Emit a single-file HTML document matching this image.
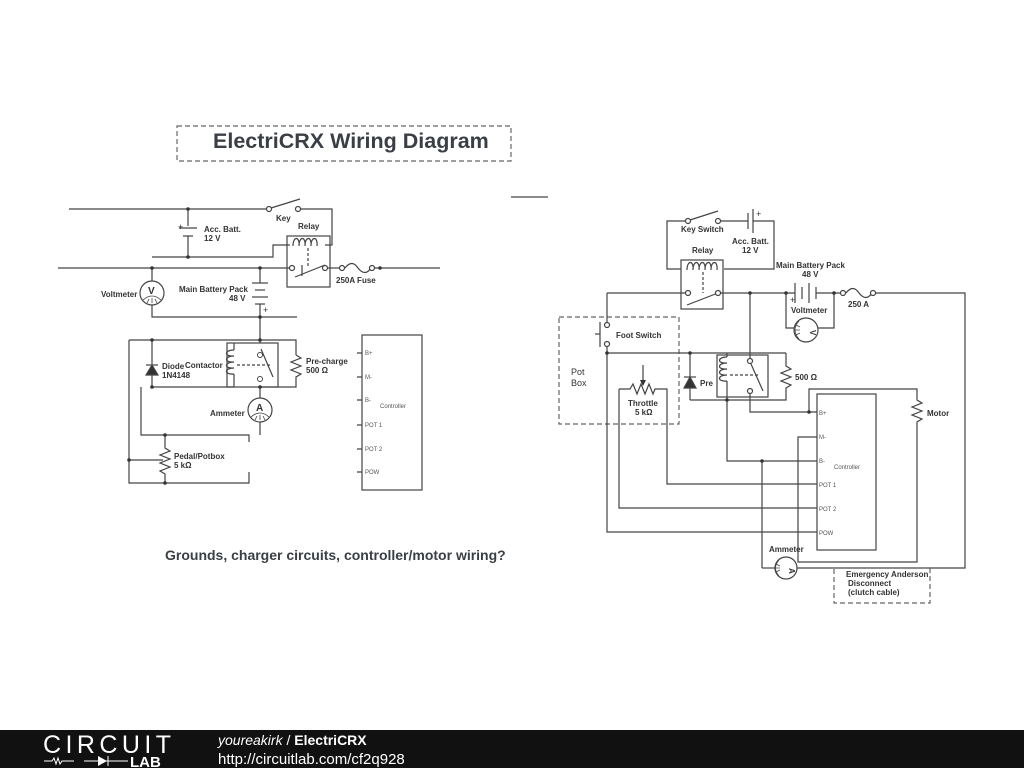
<!DOCTYPE html>
<html><head><meta charset="utf-8"><style>
html,body{margin:0;padding:0;background:#fff;width:1024px;height:768px;overflow:hidden}
svg{display:block}
text{font-family:"Liberation Sans",sans-serif;fill:#333}
.b{font-weight:bold;font-size:8px}
.s{font-size:6px;fill:#555}
</style></head><body>
<svg width="1024" height="768" viewBox="0 0 1024 768" xmlns="http://www.w3.org/2000/svg">
<g fill="none" stroke="#444" stroke-width="1.2">
<rect x="177" y="126" width="334" height="35" stroke-dasharray="5,3" stroke="#666"/>
<line x1="511" y1="197" x2="548" y2="197"/>
<!-- LEFT CIRCUIT -->
<polyline points="69,209 266,209"/>
<line x1="271" y1="208" x2="300" y2="199"/>
<polyline points="301,209 332,209 332,245 325,245"/>
<line x1="188" y1="209" x2="188" y2="226"/>
<line x1="179" y1="228" x2="197" y2="228"/>
<line x1="183" y1="236" x2="193" y2="236"/>
<line x1="188" y1="236" x2="188" y2="257"/>
<polyline points="152,257 273,257 273,245 290,245"/>
<rect x="287" y="236" width="43" height="51"/>
<path d="M293,246 c0,-10 7,-10 6,0 c0,-10 7,-10 6,0 c0,-10 7,-10 6,0 c0,-10 7,-10 6,0"/>
<line x1="58" y1="268" x2="289" y2="268"/>
<line x1="295" y1="277" x2="325" y2="265"/>
<line x1="302" y1="276" x2="302" y2="265"/>
<line x1="308" y1="248" x2="308" y2="268" stroke-dasharray="3,2"/>
<line x1="328" y1="268" x2="339" y2="268"/>
<path d="M345,268 q7,-9 13,0 q7,9 13,0"/>
<line x1="375" y1="268" x2="440" y2="268"/>
<circle cx="292" cy="268" r="2.5" fill="#fff"/><circle cx="325" cy="268" r="2.5" fill="#fff"/>
<circle cx="342" cy="268" r="2.5" fill="#fff"/><circle cx="372" cy="268" r="2.5" fill="#fff"/>
<circle cx="269" cy="209" r="2.5" fill="#fff"/><circle cx="298" cy="209" r="2.5" fill="#fff"/>
<line x1="152" y1="268" x2="152" y2="281"/>
<circle cx="152" cy="293" r="12"/>
<path d="M143,300 q9,-8 18,0 M147,303 l2,-4 M152,303 v-5 M157,303 l-2,-4" stroke-width="0.8"/>
<polyline points="152,305 152,317 297,317"/>
<line x1="260" y1="268" x2="260" y2="283"/>
<line x1="252" y1="283" x2="268" y2="283"/><line x1="255" y1="290" x2="265" y2="290"/>
<line x1="252" y1="297" x2="268" y2="297"/><line x1="255" y1="304" x2="265" y2="304"/>
<line x1="260" y1="304" x2="260" y2="343"/>
<polyline points="129,340 296,340 296,355"/>
<rect x="227" y="343" width="51" height="44"/>
<path d="M234,350 c-10,0 -10,7 0,6 c-10,0 -10,7 0,6 c-10,0 -10,7 0,6 c-10,0 -10,7 0,6"/>
<line x1="234" y1="343" x2="234" y2="350"/><line x1="234" y1="374" x2="234" y2="387"/>
<line x1="237" y1="365" x2="270" y2="365" stroke-dasharray="3,2"/>
<line x1="261" y1="349" x2="273" y2="377"/>
<line x1="260" y1="387" x2="260" y2="398"/>
<polyline points="296,355 301,358 291,362 301,366 291,370 301,374 296,377 296,387 261,387"/>
<line x1="152" y1="340" x2="152" y2="387"/>
<polygon points="146,375 158,375 152,365" fill="#333"/>
<line x1="146" y1="365" x2="158" y2="365"/>
<line x1="152" y1="387" x2="234" y2="387"/>
<polyline points="141,387 141,435 249,435 249,442"/>
<circle cx="260" cy="410" r="12"/>
<path d="M251,417 q9,-8 18,0 M255,420 l2,-4 M260,420 v-5 M265,420 l-2,-4" stroke-width="0.8"/>
<line x1="260" y1="422" x2="260" y2="435"/>
<polyline points="165,435 165,448 170,451 160,455 170,459 160,463 170,467 160,471 165,474 165,483"/>
<line x1="129" y1="460" x2="163" y2="460"/>
<polyline points="129,340 129,483 249,483 249,472"/>
<rect x="362" y="335" width="60" height="155"/>
<path d="M357,353h5M357,377h5M357,400h5M357,425h5M357,449h5M357,472h5"/>
<!-- RIGHT CIRCUIT -->
<polyline points="681,269 667,269 667,221 686,221"/>
<line x1="690" y1="220" x2="718" y2="211"/>
<line x1="721" y1="221" x2="748" y2="221"/>
<line x1="748" y1="213" x2="748" y2="229"/><line x1="753" y1="209" x2="753" y2="233"/>
<polyline points="753,221 774,221 774,269 724,269"/>
<rect x="681" y="260" width="42" height="49"/>
<path d="M687,270 c0,-10 7,-10 6,0 c0,-10 7,-10 6,0 c0,-10 7,-10 6,0 c0,-10 7,-10 6,0 c0,-10 7,-10 6,0"/>
<line x1="703" y1="272" x2="703" y2="293" stroke-dasharray="3,2"/>
<line x1="687" y1="305" x2="718" y2="293"/>
<line x1="607" y1="293" x2="686" y2="293"/>
<line x1="720" y1="293" x2="795" y2="293"/>
<line x1="795" y1="283" x2="795" y2="303"/><line x1="802" y1="287" x2="802" y2="299"/>
<line x1="809" y1="283" x2="809" y2="303"/><line x1="816" y1="287" x2="816" y2="299"/>
<line x1="816" y1="293" x2="841" y2="293"/>
<path d="M846,293 q7,-9 13,0 q7,9 13,0"/>
<polyline points="875,293 965,293 965,568 797,568"/>
<circle cx="688" cy="293" r="2.5" fill="#fff"/><circle cx="718" cy="293" r="2.5" fill="#fff"/>
<circle cx="843" cy="293" r="2.5" fill="#fff"/><circle cx="873" cy="293" r="2.5" fill="#fff"/>
<circle cx="688" cy="221" r="2.5" fill="#fff"/><circle cx="718" cy="221" r="2.5" fill="#fff"/>
<polyline points="786,293 786,328 794,328"/>
<circle cx="806" cy="330" r="12"/>
<path d="M799,321 q-8,9 0,18 M796,325 l4,2 M795,330 h5 M796,335 l4,-2" stroke-width="0.8"/>
<polyline points="818,328 834,328 834,293"/>
<rect x="559" y="317" width="120" height="107" stroke-dasharray="5,3" stroke="#666"/>
<line x1="607" y1="293" x2="607" y2="322"/>
<line x1="600" y1="322" x2="600" y2="347"/><line x1="595" y1="334" x2="600" y2="334"/>
<circle cx="607" cy="325" r="2.5" fill="#fff"/><circle cx="607" cy="344" r="2.5" fill="#fff"/>
<polyline points="607,347 607,532 817,532"/>
<line x1="607" y1="353" x2="786" y2="353"/>
<line x1="690" y1="353" x2="690" y2="400"/>
<polygon points="684,388 696,388 690,377" fill="#333"/>
<line x1="684" y1="377" x2="696" y2="377"/>
<rect x="717" y="355" width="51" height="42"/>
<path d="M727,357 c-10,0 -10,7 0,6 c-10,0 -10,7 0,6 c-10,0 -10,7 0,6 c-10,0 -10,7 0,6"/>
<line x1="727" y1="353" x2="727" y2="357"/>
<line x1="730" y1="375" x2="760" y2="375" stroke-dasharray="3,2"/>
<line x1="751" y1="364" x2="763" y2="391"/>
<line x1="750" y1="293" x2="750" y2="358"/>
<circle cx="750" cy="361" r="2.5" fill="#fff"/><circle cx="750" cy="391" r="2.5" fill="#fff"/>
<polyline points="786,353 786,366 791,369 781,373 791,377 781,381 791,385 786,388 786,400 690,400"/>
<polyline points="750,394 750,412 817,412"/>
<polyline points="809,412 809,389 917,389 917,400 922,403 912,407 922,411 912,415 922,419 917,422 917,562 798,562 798,437 817,437"/>
<polyline points="727,381 727,461 817,461"/>
<line x1="762" y1="461" x2="762" y2="568"/><line x1="762" y1="568" x2="775" y2="568"/>
<circle cx="786" cy="568" r="11"/>
<path d="M779,560 q-7,8 0,16 M776,564 l4,2 M775,568 h5 M776,572 l4,-2" stroke-width="0.8"/>
<rect x="834" y="568" width="96" height="35" stroke-dasharray="5,3" stroke="#666"/>
<polyline points="619,389 630,389 633,384 637,394 641,384 645,394 649,384 653,394 655,389 667,389 667,484 817,484"/>
<polyline points="619,389 619,508 817,508"/>
<line x1="643" y1="365" x2="643" y2="385"/>
<rect x="817" y="394" width="59" height="156"/>
</g>
<g fill="#333">
<circle cx="188" cy="209" r="1.8"/><circle cx="188" cy="257" r="1.8"/><circle cx="152" cy="268" r="1.8"/>
<circle cx="260" cy="268" r="1.8"/><circle cx="380" cy="268" r="1.8"/><circle cx="260" cy="317" r="1.8"/>
<circle cx="260" cy="340" r="1.8"/><circle cx="152" cy="340" r="1.8"/><circle cx="152" cy="387" r="1.8"/>
<circle cx="260" cy="387" r="1.8"/><circle cx="165" cy="435" r="1.8"/><circle cx="129" cy="460" r="1.8"/><circle cx="165" cy="483" r="1.8"/>
<circle cx="750" cy="293" r="1.8"/><circle cx="786" cy="293" r="1.8"/><circle cx="834" cy="293" r="1.8"/>
<circle cx="607" cy="353" r="1.8"/><circle cx="690" cy="353" r="1.8"/><circle cx="727" cy="400" r="1.8"/>
<circle cx="809" cy="412" r="1.8"/><circle cx="762" cy="461" r="1.8"/>
<polygon points="640,380 646,380 643,386"/>
</g>
<circle cx="260" cy="355" r="2.5" fill="#fff" stroke="#444"/><circle cx="260" cy="379" r="2.5" fill="#fff" stroke="#444"/>
<text x="148" y="294" style="font-size:10px;font-weight:bold">V</text>
<text x="256" y="411" style="font-size:10px;font-weight:bold">A</text>
<text x="813" y="333" style="font-size:8px;font-weight:bold" transform="rotate(90 813 330)">V</text>
<text x="792" y="571" style="font-size:8px;font-weight:bold" transform="rotate(90 792 568)">A</text>
<text x="213" y="148" style="font-size:21.5px;font-weight:bold;fill:#3a3f45">ElectriCRX Wiring Diagram</text>
<text x="276" y="221" class="b">Key</text>
<text x="298" y="229" class="b">Relay</text>
<text x="204" y="232" class="b">Acc. Batt.</text><text x="204" y="241" class="b">12 V</text>
<text x="336" y="283" class="b">250A Fuse</text>
<text x="101" y="297" class="b">Voltmeter</text>
<text x="179" y="292" class="b">Main Battery Pack</text><text x="229" y="301" class="b">48 V</text>
<text x="263" y="313" style="font-size:9px">+</text><text x="178" y="230" style="font-size:9px">+</text>
<text x="162" y="369" class="b">Diode</text><text x="185" y="368" class="b">Contactor</text><text x="162" y="378" class="b">1N4148</text>
<text x="306" y="364" class="b">Pre-charge</text><text x="306" y="373" class="b">500 Ω</text>
<text x="210" y="416" class="b">Ammeter</text>
<text x="174" y="459" class="b">Pedal/Potbox</text><text x="174" y="468" class="b">5 kΩ</text>
<text x="365" y="355" class="s">B+</text><text x="365" y="379" class="s">M-</text><text x="365" y="402" class="s">B-</text>
<text x="365" y="427" class="s">POT 1</text><text x="365" y="451" class="s">POT 2</text><text x="365" y="474" class="s">POW</text>
<text x="380" y="408" class="s">Controller</text>
<text x="165" y="560" style="font-size:14px;font-weight:bold;fill:#3a3f45">Grounds, charger circuits, controller/motor wiring?</text>
<text x="681" y="232" class="b">Key Switch</text>
<text x="756" y="217" style="font-size:9px">+</text>
<text x="732" y="244" class="b">Acc. Batt.</text><text x="742" y="253" class="b">12 V</text>
<text x="692" y="253" class="b">Relay</text>
<text x="776" y="268" class="b">Main Battery Pack</text><text x="802" y="277" class="b">48 V</text>
<text x="790" y="303" style="font-size:9px">+</text>
<text x="848" y="307" class="b">250 A</text><text x="791" y="313" class="b">Voltmeter</text>
<text x="616" y="338" class="b">Foot Switch</text>
<text x="571" y="375" style="font-size:9px">Pot</text><text x="571" y="386" style="font-size:9px">Box</text>
<text x="700" y="386" class="b">Pre</text><text x="795" y="380" class="b">500 Ω</text>
<text x="628" y="406" class="b">Throttle</text><text x="635" y="415" class="b">5 kΩ</text>
<text x="927" y="416" class="b">Motor</text>
<text x="819" y="415" class="s">B+</text><text x="819" y="439" class="s">M-</text><text x="819" y="463" class="s">B-</text>
<text x="819" y="487" class="s">POT 1</text><text x="819" y="511" class="s">POT 2</text><text x="819" y="535" class="s">POW</text>
<text x="834" y="469" class="s">Controller</text>
<text x="769" y="552" class="b">Ammeter</text>
<text x="846" y="577" class="b">Emergency Anderson</text><text x="848" y="586" class="b">Disconnect</text><text x="848" y="595" class="b">(clutch cable)</text>
<rect x="0" y="730" width="1024" height="38" fill="#111"/>
<text x="43" y="753" style="font-size:25px;fill:#fff;letter-spacing:2px" textLength="130">CIRCUIT</text>
<text x="130" y="767" style="font-size:15px;font-weight:bold;fill:#fff">LAB</text>
<path d="M44,761h8l2,-3l2,6l2,-6l2,6l2,-3h12M108,756v10M84,761h44" stroke="#fff" fill="none"/>
<polygon points="98,756 98,766 107,761" fill="#fff"/>
<text x="218" y="745" style="font-size:14px;fill:#fff"><tspan font-style="italic">youreakirk</tspan> / <tspan font-weight="bold">ElectriCRX</tspan></text>
<text x="218" y="764" style="font-size:15px;fill:#fff">http://circuitlab.com/cf2q928</text>
</svg>
</body></html>
